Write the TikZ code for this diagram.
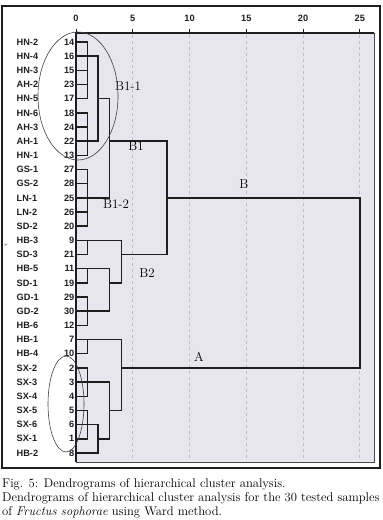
\documentclass[tikz,border=0pt]{standalone}
\usepackage{fontspec}
\newfontfamily\labfont{Liberation Sans}
\definecolor{plotbg}{RGB}{231,229,237}
\definecolor{gridc}{RGB}{190,188,196}
\definecolor{linec}{RGB}{30,30,30}
\begin{document}
\begin{tikzpicture}[x=1pt,y=-1pt,
  lab/.style={font=\labfont\bfseries\fontsize{9.2}{10}\selectfont, inner sep=0pt, text=linec},
  grp/.style={font=\fontsize{13}{14}\selectfont, inner sep=0pt},
  captext/.style={font=\fontsize{12.6}{14}\selectfont, inner sep=0pt, anchor=base west},
  dend/.style={line width=1.5pt, draw=linec, line cap=rect},
  ell/.style={draw=black!75, line width=0.6pt}]
\useasboundingbox (0,0) rectangle (383,520);
% plot area
\fill[plotbg] (76,33) rectangle (374,462);
\foreach \v in {5,10,15,20,25}{
  \draw[gridc, line width=0.6pt, dash pattern=on 3pt off 3pt] ({76+11.35*\v},35) -- ({76+11.35*\v},461);
}
\draw[black!70, line width=0.9pt] (374,33) -- (374,462) -- (76,462);
\draw[linec, line width=1.5pt] (374,33) -- (76,33) -- (76,462);
% axis ticks and labels
\foreach \v in {0,5,10,15,20,25}{
  \draw[linec, line width=1pt] ({76+11.35*\v},28.5) -- ({76+11.35*\v},33);
  \node[lab] (t\v) at ({76+11.35*\v},18) {\v};
}
% outer frame
\draw[linec, line width=1.2pt] (2,6) rectangle (380,468);
% row labels
\foreach \n/\s [count=\i from 0] in {14/HN-2,16/HN-4,15/HN-3,23/AH-2,17/HN-5,18/HN-6,24/AH-3,22/AH-1,13/HN-1,27/GS-1,28/GS-2,25/LN-1,26/LN-2,20/SD-2,9/HB-3,21/SD-3,11/HB-5,19/SD-1,29/GD-1,30/GD-2,12/HB-6,7/HB-1,10/HB-4,2/SX-2,3/SX-3,4/SX-4,5/SX-5,6/SX-6,1/SX-1,8/HB-2}{
  \node[lab, anchor=east] (n\n) at (74.5,{42+14.17*(\i-1)+14.17}) {\n};
  \node[lab, anchor=west] (s\n) at (16.5,{42+14.17*(\i-1)+14.17}) {\s};
}
\node[font=\labfont\fontsize{4}{4}\selectfont, rotate=90, inner sep=0pt] (yl) at (6,245) {Y};
% dendrogram
\begin{scope}[xshift=76pt, yshift=-42pt, x=11.35pt, y=-14.17pt]
  % horizontal segments: row / start / end
  \foreach \r/\a/\b in {0/0/1,1/0/1.95,2/0/1,3/0/1,4/0/1,4/1.95/2.95,
      5/0/1,6/0/1,7/0/1.95,7/2.95/8,8/0/1,
      9/0/1,10/0/1,11/0/2.95,11/8/25,12/0/1,13/0/1,
      14/0/4,15/0/1,15/4/8,16/0/2.95,17/0/1,17/2.95/4,18/0/1,19/0/2.95,20/0/1,
      21/0/4,22/0/1,23/0/1,23/4/25,24/0/2.95,25/0/1,26/0/1,26/2.95/4,
      27/0/1.95,28/0/1,28/1.95/2.95,29/0/1.95}{
    \draw[dend] (\a,\r) -- (\b,\r);
  }
  % vertical segments: x / from row / to row
  \foreach \x/\p/\q in {1/0/4,1/5/8,1/9/13,1/14/15,1/16/17,1/18/20,1/21/22,1/23/25,1/26/28,
      1.95/1/7,1.95/27/29,2.95/4/11,2.95/16/19,2.95/24/28,4/14/17,4/21/26,8/7/15,25/11/23}{
    \draw[dend] (\x,\p) -- (\x,\q);
  }
\end{scope}
% group labels
\node[grp] (b11) at (128,86) {B1-1};
\node[grp] (b1) at (136,146) {B1};
\node[grp] (b12) at (116,204) {B1-2};
\node[grp] (b2) at (147,273) {B2};
\node[grp] (bb) at (244,184) {B};
\node[grp] (aa) at (199,357) {A};
% ellipses
\draw[ell] (78,96) ellipse [x radius=40pt, y radius=64pt];
\draw[ell] (66,404) ellipse [x radius=18pt, y radius=48pt];
% caption
\node[captext] (c1) at (2,487) {Fig. 5: Dendrograms of hierarchical cluster analysis.};
\node[captext] (c2) at (2,501) {Dendrograms of hierarchical cluster analysis for the 30 tested samples};
\node[captext] (c3) at (2,515) {of \textit{Fructus sophorae} using Ward method.};
\end{tikzpicture}
\end{document}
